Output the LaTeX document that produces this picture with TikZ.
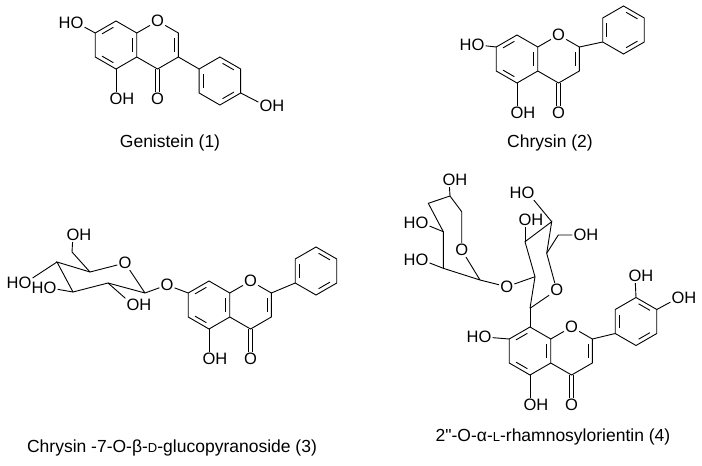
\documentclass[tikz,border=0pt]{standalone}
\usepackage{fontspec}
\setmainfont{Liberation Sans}
\newfontfamily\rawfont{Liberation Sans}
\usetikzlibrary{calc}

\tikzset{
  bond/.style={line width=0.9pt},
  atom/.style={inner sep=1pt, font=\fontsize{16.5}{16.5}\selectfont},
  caption/.style={inner sep=0pt, font=\fontsize{17.5}{17.5}\selectfont}
}
% inner line of an aromatic double bond
\newcommand\dbl[3]{\draw[bond] ($(#1)!.16!(#2)!.2!(#3)$) -- ($(#2)!.16!(#1)!.2!(#3)$);}
% chromone core (A and C rings)
\newcommand\flavcore[2]{%
\begin{scope}[shift={#2}]
  \coordinate (#1ctr) at (0,0);
  \coordinate (#1rctr) at (41.57,0);
  \coordinate (#1c8) at (0,-24);
  \coordinate (#1c8a) at (20.78,-12);
  \coordinate (#1c4a) at (20.78,12);
  \coordinate (#1c5) at (0,24);
  \coordinate (#1c6) at (-20.78,12);
  \coordinate (#1c7) at (-20.78,-12);
  \node[atom] (#1o1) at (41.57,-24) {O};
  \coordinate (#1c2) at (62.35,-12);
  \coordinate (#1c3) at (62.35,12);
  \coordinate (#1c4) at (41.57,24);
  \node[atom] (#1o4) at (41.57,54) {O};
  \node[atom] (#1oh5) at (0,54) {O\rlap{H}};
  \draw[bond] (#1c8) -- (#1c8a) -- (#1c4a) -- (#1c5) -- (#1c6) -- (#1c7) -- cycle;
  \draw[bond] (#1c8a) -- (#1o1) -- (#1c2) -- (#1c3) -- (#1c4) -- (#1c4a);
  \draw[bond] (#1c5) -- (#1oh5);
  \draw[bond] ([xshift=-2pt]#1c4) -- ([xshift=-2pt]#1o4.north);
  \draw[bond] ([xshift=2pt]#1c4) -- ([xshift=2pt]#1o4.north);
  \dbl{#1c7}{#1c8}{#1ctr}
  \dbl{#1c8a}{#1c4a}{#1ctr}
  \dbl{#1c5}{#1c6}{#1ctr}
  \dbl{#1c2}{#1c3}{#1rctr}
\end{scope}}
% benzene ring
\newcommand\phenyl[2]{%
\begin{scope}[shift={#2}]
  \coordinate (#1ctr) at (0,0);
  \coordinate (#1top) at (0,-24);
  \coordinate (#1ur) at (20.78,-12);
  \coordinate (#1lr) at (20.78,12);
  \coordinate (#1bot) at (0,24);
  \coordinate (#1ll) at (-20.78,12);
  \coordinate (#1ul) at (-20.78,-12);
  \draw[bond] (#1top) -- (#1ur) -- (#1lr) -- (#1bot) -- (#1ll) -- (#1ul) -- cycle;
  \dbl{#1ll}{#1ul}{#1ctr}
  \dbl{#1top}{#1ur}{#1ctr}
  \dbl{#1lr}{#1bot}{#1ctr}
\end{scope}}

\begin{document}
\begin{tikzpicture}[x=1pt,y=-1pt]
\useasboundingbox (0,0) rectangle (702,466);

% Genistein
\flavcore{g}{(116,45)}
\phenyl{gb}{(219.9,81)}
\node[atom] (gho7) at (77,23) {\llap{H}O};
\node[atom] (gohb) at (266,106) {O\rlap{H}};
\draw[bond] (gc7) -- (gho7);
\draw[bond] (gc3) -- (gbul);
\draw[bond] (gblr) -- (gohb);
\node[caption] (gname) at (170,143) {Genistein (1)};

% Chrysin
\flavcore{c}{(517,59)}
\phenyl{cb}{(623.5,30)}
\node[atom] (cho7) at (478,45) {\llap{H}O};
\draw[bond] (cc7) -- (cho7);
\draw[bond] (cc2) -- (cbll);
\node[caption] (cname) at (550,143) {Chrysin (2)};

% Chrysin glucoside
\flavcore{q}{(209,305)}
\phenyl{qb}{(316,271)}
\draw[bond] (qc2) -- (qbll);
\node[atom] (qo7) at (167,285) {O};
\draw[bond] (qc7) -- (qo7);
\coordinate (s1) at (145,293);
\coordinate (s2) at (108,283);
\coordinate (s3) at (73,292);
\coordinate (s4) at (57,262);
\coordinate (s5) at (90,272);
\coordinate (s6) at (72,252);
\node[atom] (so5) at (125,263) {O};
\node[atom] (so6) at (73,235) {O\rlap{H}};
\node[atom] (so4) at (25,283) {\llap{H}O};
\node[atom] (so3) at (50,288) {\llap{H}O};
\node[atom] (so2) at (133,305) {O\rlap{H}};
\draw[bond] (s1) -- (so5) -- (s5) -- (s4) -- (s3) -- (s2) -- (s1);
\draw[bond] (s1) -- (qo7);
\draw[bond] (s5) -- (s6) -- (so6);
\draw[bond] (s4) -- (so4);
\draw[bond] (s3) -- (so3);
\draw[bond] (s2) -- (so2);
\node[caption] (qname) at (172,448) {Chrysin -7-O-β-{\fontsize{13}{13}\selectfont D}-glucopyranoside (3)};

% Rhamnosylorientin
\flavcore{r}{(530,351)}
\phenyl{rb}{(636,321.5)}
\draw[bond] (rc2) -- (rbll);
\node[atom] (rho7) at (485,337) {\llap{H}O};
\draw[bond] (rc7) -- (rho7);
\node[atom] (roh3) at (635,276) {O\rlap{H}};
\node[atom] (roh4) at (678,298) {O\rlap{H}};
\draw[bond] (rbtop) -- (roh3);
\draw[bond] (rbur) -- (roh4);
% glucose unit
\coordinate (u1) at (530,308.3);
\coordinate (u2) at (535,276.7);
\coordinate (u3) at (525,241.7);
\coordinate (u4) at (551.7,221.7);
\coordinate (u5) at (546.7,253.3);
\coordinate (u6) at (558.3,235);
\node[atom] (uo5) at (556.7,290) {O};
\node[atom] (uo6) at (580,235) {O\rlap{H}};
\node[atom] (uo3) at (525,220) {O\rlap{H}};
\node[atom] (uo4) at (528,193) {\llap{H}O};
\node[atom] (uo2) at (506.7,286.7) {O};
\draw[bond] (rc8) -- (u1);
\draw[bond] (u1) -- (u2) -- (u3) -- (u4) -- (u5) -- (uo5) -- (u1);
\draw[bond] (u5) -- (u6) -- (uo6);
\draw[bond] (u3) -- (uo3);
\draw[bond] (u4) -- (uo4);
\draw[bond] (u2) -- (uo2);
% rhamnose unit
\coordinate (h1) at (480,280);
\coordinate (h5) at (461.7,211.7);
\coordinate (h4) at (450,196);
\coordinate (h3) at (428.3,203.3);
\coordinate (h2) at (443.3,231.7);
\coordinate (h0) at (443.3,268.3);
\node[atom] (ho5) at (461.7,250) {O};
\node[atom] (hoh4) at (449,180) {O\rlap{H}};
\node[atom] (hoh2) at (422,223) {\llap{H}O};
\node[atom] (hoh0) at (422,260) {\llap{H}O};
\draw[bond] (h1) -- (ho5) -- (h5) -- (h4) -- (h3) -- (h2) -- (h0) -- (h1);
\draw[bond] (h1) -- (uo2);
\draw[bond] (h4) -- (hoh4);
\draw[bond] (h2) -- (hoh2);
\draw[bond] (h0) -- (hoh0);
\node[caption] (rname) at (553,437) {2{\rawfont"}-O-α-{\fontsize{13}{13}\selectfont L}-rhamnosylorientin (4)};
\end{tikzpicture}
\end{document}
